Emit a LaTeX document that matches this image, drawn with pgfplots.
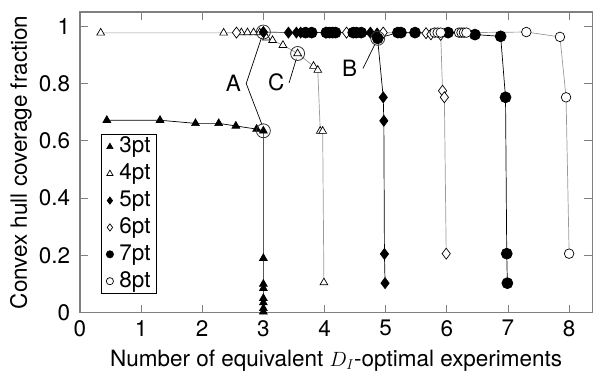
\documentclass[border=0pt]{standalone}
\usepackage{fontspec}
\setmainfont{TeX Gyre Heros}
\usepackage{pgfplots}
\pgfplotsset{compat=1.18}
\definecolor{lgray}{gray}{0.6}
\definecolor{agray}{gray}{0.5}
\newcommand{\ff}{\fontsize{22.5bp}{26bp}\selectfont}
\begin{document}
\ff
\begin{tikzpicture}
\begin{axis}[
  scale only axis, width=513bp, height=301bp,
  xmin=0, xmax=8.38, ymin=0, ymax=1.05,
  xtick={0,1,2,3,4,5,6,7,8}, ytick={0,0.2,0.4,0.6,0.8,1},
  tick align=inside, major tick length=8bp,
  axis line style={agray, line width=1.3bp},
  every tick/.style={agray, line width=0.8bp},
  /pgf/number format/assume math mode=true,
  tick label style={font=\ff},
  yticklabel style={xshift=-2bp},
  label style={font=\ff},
  xlabel={Number of equivalent $D_I$-optimal experiments},
  ylabel={Convex hull coverage fraction},
  xlabel style={yshift=2bp},
  every axis y label/.style={at={(rel axis cs:0,0.5)}, xshift=-59bp, rotate=90, anchor=center, inner sep=0pt},
  clip=false,
  legend style={at={(0.041,0.595)}, anchor=north west, draw=black, line width=0.8bp,
    font=\ff, inner xsep=5bp, inner ysep=1.5bp, row sep=4.5bp,
    nodes={inner sep=1.2bp, text height=16bp, text depth=4bp}},
  legend cell align=left,
  legend image code/.code={\draw[#1, mark size=3.6bp] plot coordinates {(0pt,0)}; \path (8bp,0);},
]
% 3pt
\addplot[black, line width=0.7bp, mark=triangle*, mark size=4.5bp, mark options={fill=black, draw=black}] coordinates {
(0.44,0.672) (1.31,0.672) (1.89,0.661) (2.27,0.661) (2.55,0.652) (2.89,0.641) (3.0,0.635)
(3.0,0.19) (3.0,0.10) (3.0,0.085) (3.0,0.05) (3.0,0.035) (3.0,0.015) (3.0,0.003)};
\addlegendentry{3pt}
% 4pt
\addplot[lgray, line width=0.7bp, mark=triangle*, mark size=4.5bp, mark options={fill=white, draw=black, line width=0.7bp}] coordinates {
(0.34,0.977) (2.35,0.977) (2.64,0.978) (2.74,0.978) (2.84,0.978) (2.94,0.978) (3.0,0.98)
(3.05,0.96) (3.15,0.951) (3.32,0.934) (3.56,0.905) (3.82,0.861) (3.89,0.847)
(3.93,0.634) (3.97,0.634) (3.99,0.105)};
\addlegendentry{4pt}
% 5pt
\addplot[black, line width=0.7bp, mark=diamond*, mark size=5.5bp, mark options={fill=black, draw=black}] coordinates {
(3.0,0.98) (3.41,0.978) (3.54,0.978) (3.61,0.978) (4.02,0.978) (4.75,0.978) (4.86,0.975)
(4.96,0.752) (4.97,0.67) (4.98,0.205) (4.99,0.103)};
\addlegendentry{5pt}
% 6pt
\addplot[lgray, line width=0.7bp, mark=diamond*, mark size=5.5bp, mark options={fill=white, draw=black, line width=0.7bp}] coordinates {
(2.56,0.978) (4.36,0.978) (4.96,0.978) (5.66,0.976) (5.74,0.972) (5.9,0.970)
(5.93,0.775) (5.96,0.752) (5.99,0.206)};
\addlegendentry{6pt}
% 7pt
\addplot[black, line width=0.7bp, mark=*, mark size=5.5bp, mark options={fill=black, draw=black}] coordinates {
(3.69,0.978) (3.79,0.978) (4.03,0.978) (4.08,0.978) (4.13,0.978) (4.18,0.978)
(4.47,0.978) (4.52,0.978) (4.6,0.978) (4.87,0.958) (5.2,0.978) (5.25,0.978) (5.48,0.978)
(6.02,0.978) (6.46,0.971) (6.88,0.965) (6.96,0.752) (6.98,0.206) (6.99,0.103)};
\addlegendentry{7pt}
% 8pt
\addplot[lgray, line width=0.7bp, mark=*, mark size=4.8bp, mark options={fill=white, draw=black, line width=0.7bp}] coordinates {
(5.8,0.978) (5.85,0.978) (5.9,0.978) (6.2,0.978) (6.24,0.978) (6.28,0.978) (6.32,0.978)
(7.30,0.980) (7.85,0.963) (7.95,0.752) (8.0,0.206)};
\addlegendentry{8pt}
% highlight circles
\addplot[only marks, mark=o, mark size=7bp, mark options={draw=black!80, line width=0.8bp}, forget plot] coordinates {
(3.0,0.98) (3.0,0.635) (3.56,0.905) (4.87,0.958)};
% annotations
\node[font=\ff] at (axis cs:2.51,0.80) {A};
\draw[black, line width=0.7bp] (axis cs:2.97,0.96) -- (axis cs:2.72,0.80) -- (axis cs:2.98,0.655);
\node[font=\ff] at (axis cs:3.21,0.806) {C};
\draw[black, line width=0.7bp] (axis cs:3.42,0.802) -- (axis cs:3.54,0.887);
\node[font=\ff] at (axis cs:4.41,0.853) {B};
\draw[black, line width=0.7bp] (axis cs:4.63,0.853) -- (axis cs:4.83,0.94);
\end{axis}
\path (current axis.north east) ++(0,12bp);
\path (current axis.south west) ++(-80bp,0);
\end{tikzpicture}
\end{document}
